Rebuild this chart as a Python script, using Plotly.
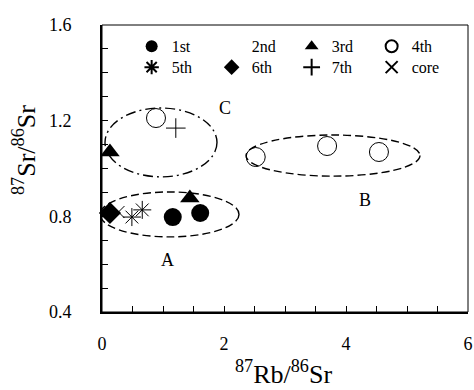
import plotly.graph_objects as go

# ---- data ----
series_names = ["1st", "2nd", "3rd", "4th", "5th", "6th", "7th", "core"]
x_1st = [1.16, 1.61]
y_1st = [0.797, 0.814]
x_2nd = [None]
y_2nd = [None]
x_3rd = [0.13, 1.44]
y_3rd = [1.069, 0.877]
x_4th = [0.885, 2.52, 3.69, 4.54]
y_4th = [1.211, 1.048, 1.094, 1.069]
x_5th = [0.49, 0.66]
y_5th = [0.797, 0.827]
x_6th = [0.13]
y_6th = [0.814]
x_7th = [1.21]
y_7th = [1.169]
x_core = [0.27]
y_core = [0.818]

# group ellipses: label, center x, center y, half width, half height
groups = ["A", "B", "C"]
ell_cx = [1.107, 3.787, 0.967]
ell_cy = [0.808, 1.054, 1.109]
ell_rx = [1.139, 1.426, 0.918]
ell_ry = [0.094, 0.086, 0.144]
label_x = [1.07, 4.31, 2.02]
label_y = [0.618, 0.868, 1.253]

x_ticks = [0, 2, 4, 6]
y_ticks = [0.4, 0.8, 1.2, 1.6]

FONT = "Liberation Serif"

fig = go.Figure()
styles = [
    (x_1st, y_1st, dict(symbol="circle", size=18, color="black")),
    (x_2nd, y_2nd, dict(symbol="circle", size=12, color="white")),
    (x_3rd, y_3rd, dict(symbol="triangle-up", size=17, color="black")),
    (x_4th, y_4th, dict(symbol="circle-open", size=19, color="black", line=dict(width=1))),
    (x_5th, y_5th, dict(symbol="asterisk-open", size=15, color="black", line=dict(width=1))),
    (x_6th, y_6th, dict(symbol="diamond", size=17, color="black")),
    (x_7th, y_7th, dict(symbol="cross-thin-open", size=14, color="black", line=dict(width=1))),
    (x_core, y_core, dict(symbol="x-thin-open", size=12, color="black", line=dict(width=1))),
]
for i, (name, (xs, ys, mk)) in enumerate(zip(series_names, styles)):
    fig.add_trace(go.Scatter(x=xs, y=ys, mode="markers", name=name, marker=mk,
                             cliponaxis=False,
                             legend="legend" if i < 4 else "legend2"))

dashes = ["8px,4px", "8px,4px", "10px,4px,2px,4px"]
for g, cx, cy, rx, ry, d in zip(groups, ell_cx, ell_cy, ell_rx, ell_ry, dashes):
    fig.add_shape(type="circle", xref="x", yref="y",
                  x0=cx - rx, x1=cx + rx, y0=cy - ry, y1=cy + ry,
                  line=dict(color="black", width=1.4, dash=d), layer="below")
for g, lx, ly in zip(groups, label_x, label_y):
    fig.add_annotation(x=lx, y=ly, text=g, showarrow=False,
                       font=dict(family=FONT, size=18, color="black"))

# axis titles
fig.add_annotation(xref="paper", yref="paper", x=0.495, y=-0.212,
                   xanchor="center", yanchor="middle",
                   text="<sup>87</sup>Rb/<sup>86</sup>Sr", showarrow=False,
                   font=dict(family=FONT, size=26, color="black"))
fig.add_annotation(xref="paper", yref="paper", x=-0.21, y=0.565, textangle=-90,
                   xanchor="center", yanchor="middle",
                   text="<sup>87</sup>Sr/<sup>86</sup>Sr", showarrow=False,
                   font=dict(family=FONT, size=26, color="black"))

# frame
fig.add_shape(type="rect", xref="paper", yref="paper", x0=0, x1=1, y0=0, y1=1,
              line=dict(color="black", width=1))

leg_common = dict(orientation="h", xanchor="left", yanchor="top",
                  entrywidth=35, entrywidthmode="pixels",
                  font=dict(family=FONT, size=16, color="black"),
                  bgcolor="rgba(0,0,0,0)", itemsizing="constant")

fig.update_layout(
    width=474, height=390,
    margin=dict(l=102, r=6, t=25, b=78),
    plot_bgcolor="white", paper_bgcolor="white",
    font=dict(family=FONT, size=18, color="black"),
    showlegend=True,
    legend=dict(x=0.081, y=0.985, **leg_common),
    legend2=dict(x=0.081, y=0.912, **leg_common),
    xaxis=dict(range=[0, 6], tickvals=x_ticks, ticks="inside", ticklen=6,
               tickcolor="black", showline=True, linecolor="black", linewidth=2,
               showgrid=False, zeroline=False, ticklabelstandoff=14, automargin=False,
               tickfont=dict(family=FONT, size=18, color="black"),
               minor=dict(dtick=0.5, ticks="inside", ticklen=6, tickcolor="black")),
    yaxis=dict(range=[0.4, 1.6], tickvals=y_ticks, ticks="inside", ticklen=6,
               tickcolor="black", showline=True, linecolor="black", linewidth=2,
               showgrid=False, zeroline=False, ticklabelstandoff=25, automargin=False,
               tickfont=dict(family=FONT, size=18, color="black"),
               minor=dict(dtick=0.1, ticks="inside", ticklen=6, tickcolor="black")),
)

fig.write_html("out.html", config={"displayModeBar": False},
               post_script="document.body.style.margin='0';")
